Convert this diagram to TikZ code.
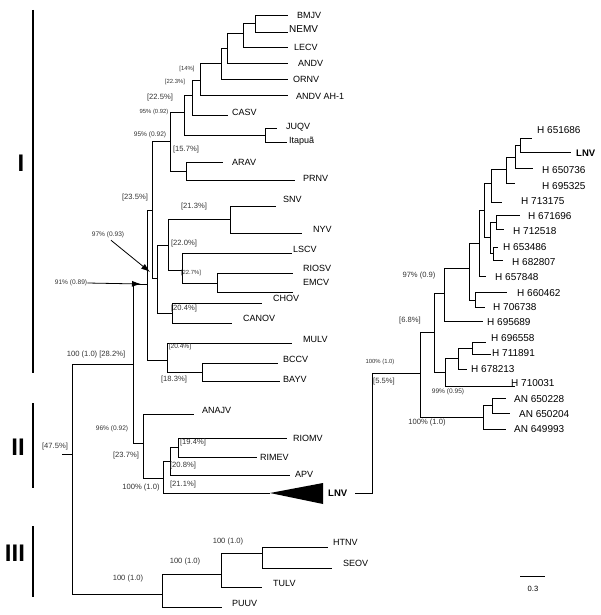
\documentclass[tikz,border=0pt]{standalone}
\usepackage{fontspec}
\setmainfont{Liberation Sans}
\usetikzlibrary{arrows.meta}
\tikzset{
  branch/.style={line width=0.8pt},
  taxon/.style={anchor=west, inner sep=0pt, font=\fontsize{9}{10}\selectfont},
  isolate/.style={anchor=west, inner sep=0pt, font=\fontsize{10}{11}\selectfont},
  support/.style={inner sep=0pt, text=black!80, font=\fontsize{7.6}{8}\selectfont},
  supsmall/.style={support, font=\fontsize{6.6}{7}\selectfont},
  suptiny/.style={support, font=\fontsize{5.9}{6}\selectfont},
  cladebar/.style={line width=2.6pt},
  cladename/.style={inner sep=0pt, font=\bfseries\fontsize{24}{24}\selectfont},
  callout/.style={line width=0.8pt, -{Latex[length=9pt,width=6pt]}}
}

\begin{document}
\begin{tikzpicture}[x=1pt,y=-1pt]
\useasboundingbox (0,0) rectangle (600,615);

% genogroup bars
\draw[cladebar] (33,10) -- (33,373);
\draw[cladebar] (33,403) -- (33,488);
\draw[cladebar] (33,526) -- (33,597);
\node[cladename] (gI) at (21,163) {I};
\node[cladename] (gII) at (18,447) {II};
\node[cladename] (gIII) at (15,553) {III};

% internal nodes, hantavirus tree
\foreach \n/\x/\y in {r0/72/454, na/133/364, n146/147/284, n152/152/210,
  n170/170/141, n184/184/112, n192/192/95, n200/200/80, n221/221/63,
  n227/227/48, n243/243/33, n255/255/23, nju/265/135, n186/186/171,
  n157/157/278, n168/168/245, n230/230/219, n182/182/270, n217/217/283,
  n172/172/313, n166/167/360, n202/202/372, n143/143/443, n163/163/478,
  nrapv/170/461, n178/178/447, n162/162/594, ntul/221/574, nhtn/262/553}
  \coordinate (\n) at (\x,\y);

% tips and names
\foreach \n/\x/\y/\lx/\ly/\t in {BMJV/288/15/297/15/BMJV, LECV/288/47/294/47/LECV,
  ANDV/288/63/298/63/ANDV, ORNV/288/79/293/79/ORNV, AH/288/95/296/96/ANDV AH-1,
  CASV/228/115/232/112/CASV, JUQV/277/128/286/127/JUQV, ITA/287/142/289/141/Itapuã,
  ARAV/223/162/232/162/ARAV, PRNV/295/180/303/178/PRNV, SNV/276/206/283/199/SNV,
  NYV/302/233/313/229/NYV, LSCV/292/253/293/249/LSCV, RIOSV/293/273/303/268/RIOSV,
  EMCV/293/292/303/282/EMCV, CHOV/262/303/273/298/CHOV, CANOV/232/323/243/318/CANOV,
  MULV/292/343/303/339/MULV, BCCV/278/363/283/359/BCCV, BAYV/280/381/283/379/BAYV,
  ANAJV/194/414/202/410/ANAJV, RIOMV/287/438/293/438/RIOMV, RIMEV/257/457/260/457/RIMEV,
  APV/290/475/295/474/APV, HTNV/328/547/333/542/HTNV, SEOV/332/568/343/563/SEOV,
  TULV/262/587/273/583/TULV, PUUV/222/607/232/603/PUUV}{
  \coordinate (t\n) at (\x,\y);
  \node[taxon] (l\n) at (\lx,\ly) {\t};
}
\coordinate (tNEMV) at (288,32);
\node[taxon, font=\fontsize{10}{11}\selectfont] (lNEMV) at (289,29) {NEMV};

\foreach \p/\c in {r0/na, r0/n162, na/n146, na/n143, n146/n152, n146/n166,
  n152/n170, n152/n157, n170/n184, n170/n186, n184/n192, n184/nju, n192/n200,
  n192/tCASV, n200/n221, n200/tAH, n221/n227, n221/tORNV, n227/n243, n227/tANDV,
  n243/n255, n243/tLECV, n255/tBMJV, n255/tNEMV, nju/tJUQV, nju/tITA,
  n186/tARAV, n186/tPRNV, n157/n168, n157/n172, n168/n230, n168/n182,
  n230/tSNV, n230/tNYV, n182/tLSCV, n182/n217, n217/tRIOSV, n217/tEMCV,
  n172/tCHOV, n172/tCANOV, n166/tMULV, n166/n202, n202/tBCCV, n202/tBAYV,
  n143/tANAJV, n143/n163, n163/nrapv, nrapv/n178, nrapv/tAPV, n178/tRIOMV,
  n178/tRIMEV, n162/ntul, n162/tPUUV, ntul/nhtn, ntul/tTULV, nhtn/tHTNV, nhtn/tSEOV}
  \draw[branch] (\p) |- (\c);

% root mark
\coordinate (rtick) at (62,454);
\draw[branch] (rtick) -- (r0);

% collapsed LNV clade
\coordinate (tLNV) at (270,493);
\coordinate (triU) at (323,483);
\coordinate (triD) at (323,504);
\draw[branch] (n163) |- (tLNV);
\fill (tLNV) -- (triU) -- (triD) -- cycle;
\node[anchor=west, inner sep=0pt, font=\bfseries\fontsize{9.5}{10}\selectfont] (lnvl) at (328,493) {LNV};

% support values
\foreach \s/\x/\y/\t [count=\k] in {suptiny/187/69/{[14\%]}, suptiny/175/82/{[22.3\%]},
  support/160/98/{[22.5\%]}, suptiny/154/112/{95\% (0.92)}, supsmall/150/135/{95\% (0.92)},
  support/186/150/{[15.7\%]}, support/135/198/{[23.5\%]}, support/194/207/{[21.3\%]},
  support/184/244/{[22.0\%]}, suptiny/191/273/{[22.7\%]}, support/184/309/{[20.4\%]},
  supsmall/180/347/{[20.4\%]}, support/96/355/{100 (1.0) [28.2\%]},
  support/174/380/{[18.3\%]}, supsmall/112/429/{96\% (0.92)}, support/193/443/{[19.4\%]},
  support/55/447/{[47.5\%]}, support/126/456/{[23.7\%]}, support/183/466/{[20.8\%]},
  support/183/485/{[21.1\%]}, support/141/488/{100\% (1.0)},
  support/228/542/{100 (1.0)}, support/185/562/{100 (1.0)}, support/128/579/{100 (1.0)},
  support/419/276/{97\% (0.9)}, support/410/321/{[6.8\%]}, suptiny/380/362/{100\% (1.0)},
  support/384/382/{[5.5\%]}, supsmall/448/392/{99\% (0.95)}, support/427/423/{100\% (1.0)}}
  \node[\s] (sup\k) at (\x,\y) {\t};

% arrowed support values
\node[supsmall] (l97) at (108,235) {97\% (0.93)};
\node[supsmall] (l91) at (71,283) {91\% (0.89)};
\coordinate (c97) at (150,272);
\coordinate (c91) at (141,284);
\draw[callout] ([xshift=3pt,yshift=-2pt]l97.south) -- (c97);
\draw[callout] (l91.east) -- (c91);

% expanded LNV tree
\foreach \n/\x/\y in {rr/420/373, ru/434/332, rv/444/293, rx/469/268, ry/479/243,
  rq/484/210, r491/491/183, r506/506/169, r515/515/157, r520/520/145,
  r490/490/237, r496/496/222, r493/493/253, rz/475/300, rw/445/372,
  r458/458/358, r472/472/348, ran/483/417, r492/492/405}
  \coordinate (\n) at (\x,\y);

\foreach \n/\x/\y/\lx/\ly/\t in {651686/532/138/537/130/H 651686,
  650736/533/168/542/170/H 650736, 695325/515/183/542/186/H 695325,
  713175/502/202/521/201/H 713175, 671696/520/215/528/216/H 671696,
  712518/504/229/513/231/H 712518, 653486/498/247/503/247/H 653486,
  682807/503/260/512/262/H 682807, 657848/486/276/495/277/H 657848,
  660462/507/292/517/293/H 660462, 706738/485/307/493/307/H 706738,
  695689/483/321/487/322/H 695689, 696558/486/342/491/338/H 696558,
  711891/491/354/492/353/H 711891, 678213/467/369/471/369/H 678213,
  710031/515/386/511/383/H 710031, 650228/506/398/514/399/AN 650228,
  650204/510/413/519/414/AN 650204, 649993/506/429/514/429/AN 649993}{
  \coordinate (t\n) at (\x,\y);
  \node[isolate] (l\n) at (\lx,\ly) {\t};
}
\coordinate (tLNVr) at (571,152);
\node[isolate, font=\bfseries\fontsize{9.5}{10}\selectfont] (lLNVr) at (576,153) {LNV};

\foreach \p/\c in {rr/ru, rr/ran, ru/rv, ru/rw, rv/rx, rv/t695689, rx/ry, rx/rz,
  ry/rq, ry/t657848, rq/r491, rq/r490, r491/r506, r491/t713175, r506/r515,
  r506/t695325, r515/r520, r515/t650736, r520/t651686, r520/tLNVr,
  r490/r496, r490/r493, r496/t671696, r496/t712518, r493/t653486, r493/t682807,
  rz/t660462, rz/t706738, rw/r458, rw/t710031, r458/r472, r458/t678213,
  r472/t696558, r472/t711891, ran/r492, ran/t649993, r492/t650228, r492/t650204}
  \draw[branch] (\p) |- (\c);

% link from collapsed clade
\coordinate (lnvjoin) at (372,373);
\draw[branch, shorten <=8pt] (lnvl.east) -| (lnvjoin) -- (rr);

% scale bar
\coordinate (sbL) at (520,576);
\coordinate (sbR) at (545,576);
\draw[branch] (sbL) -- (sbR);
\node[support, text=black] (sblab) at (533,589) {0.3};
\end{tikzpicture}
\end{document}
